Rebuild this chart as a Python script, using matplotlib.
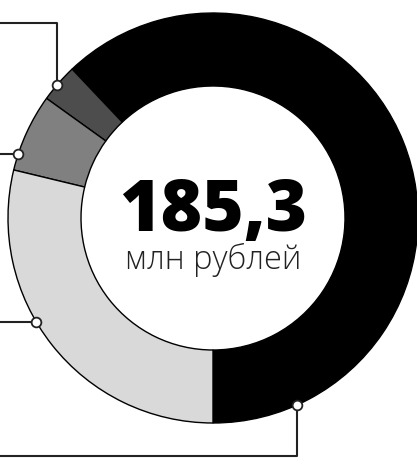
import numpy as np
import matplotlib
matplotlib.use("Agg")
import matplotlib.pyplot as plt

# segment values, mln rubles, drawn counter-clockwise from the bottom
values = [115.0, 5.6, 11.4, 53.3]
colors = ["#000000", "#4d4d4d", "#808080", "#d9d9d9"]
total_text = "185,3"
unit_text = "млн рублей"

# leader anchors: angle on the outer edge (deg)
leader_angles = [139.6, 161.7, 210.4, -65.7]

W, H = 417, 465
cx, cy = 213, H - 218
R = 205
r_in = 132

fig = plt.figure(figsize=(W / 100, H / 100), dpi=100)
ax = fig.add_axes([0, 0, 1, 1])

ax.pie(values, colors=colors, startangle=270, counterclock=True,
       center=(cx, cy), radius=R,
       wedgeprops=dict(width=R - r_in, edgecolor="black", linewidth=1.0))

ax.set_xlim(0, W)
ax.set_ylim(0, H)
ax.set_aspect("equal")
ax.axis("off")

# leader lines
pts = [(cx + R * np.cos(np.radians(a)), cy + R * np.sin(np.radians(a))) for a in leader_angles]
lc = "#222222"
lw = 1.5
x0, y0 = pts[0]
ax.plot([x0, x0, 0], [y0, H - 23, H - 23], color=lc, lw=lw, zorder=3)
x1, y1 = pts[1]
ax.plot([x1, 0], [y1, y1], color=lc, lw=lw, zorder=3)
x2, y2 = pts[2]
ax.plot([x2, 0], [y2, y2], color=lc, lw=lw, zorder=3)
x3, y3 = pts[3]
ax.plot([x3, x3, 0], [y3, H - 456, H - 456], color=lc, lw=lw, zorder=3)
for x, y in pts:
    ax.plot(x, y, "o", ms=7, mfc="white", mec=lc, mew=1.3, zorder=4)

ax.text(cx, H - 231, total_text, ha="center", va="baseline",
        fontsize=51, fontweight=800, family=["Open Sans", "DejaVu Sans"])
ax.text(cx, H - 269, unit_text, ha="center", va="baseline",
        fontsize=23.5, fontweight="light", family=["Open Sans", "DejaVu Sans"], color="#222222")

fig.savefig("out.png", dpi=100)
